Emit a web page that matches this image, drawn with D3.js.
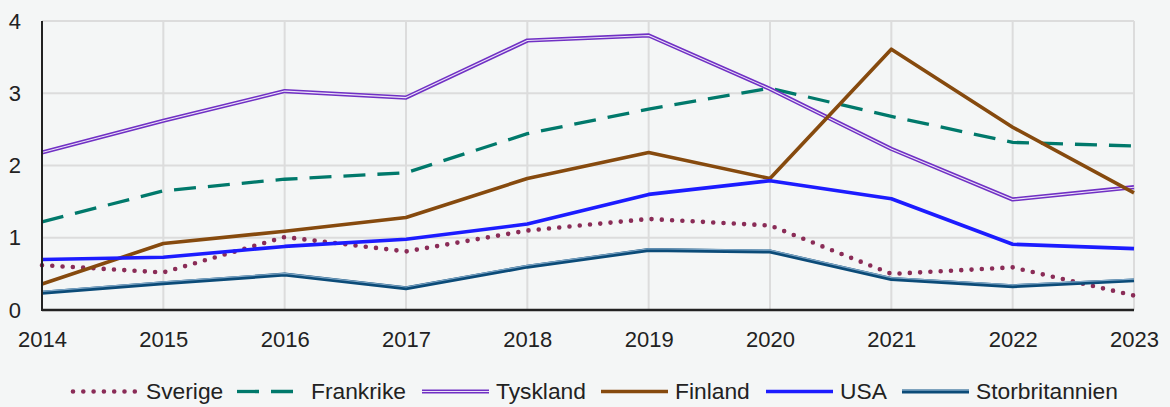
<!DOCTYPE html>
<html>
<head>
<meta charset="utf-8">
<script src="https://cdn.jsdelivr.net/npm/d3@7"></script>
<style>
  html, body { margin: 0; padding: 0; background: #f4f6f6; }
  svg { display: block; font-family: "Liberation Sans", Arial, sans-serif; }
</style>
</head>
<body>
<svg id="chart" width="1170" height="407"></svg>
<script>
(function(){
  // data
  const years = [2014, 2015, 2016, 2017, 2018, 2019, 2020, 2021, 2022, 2023];
  const sverige        = [0.62, 0.52, 1.01, 0.81, 1.10, 1.26, 1.17, 0.50, 0.59, 0.20];
  const frankrike      = [1.22, 1.65, 1.81, 1.90, 2.44, 2.78, 3.07, 2.68, 2.32, 2.27];
  const tyskland       = [2.18, 2.62, 3.03, 2.94, 3.73, 3.80, 3.06, 2.23, 1.53, 1.70];
  const finland        = [0.36, 0.92, 1.09, 1.28, 1.82, 2.18, 1.82, 3.61, 2.53, 1.62];
  const usa            = [0.70, 0.73, 0.88, 0.98, 1.19, 1.60, 1.79, 1.54, 0.91, 0.85];
  const storbritannien = [0.24, 0.37, 0.49, 0.30, 0.60, 0.83, 0.81, 0.43, 0.33, 0.41];
  const yTicks = [0, 1, 2, 3, 4];

  const series = [
    { name: 'Sverige', values: sverige, style: 'dot', color: '#8a2c57' },
    { name: 'Frankrike', values: frankrike, style: 'dash', color: '#00796b' },
    { name: 'Tyskland', values: tyskland, style: 'double', color: '#7030c4', inner: '#ece4f8' },
    { name: 'Finland', values: finland, style: 'solid', color: '#864a0e' },
    { name: 'USA', values: usa, style: 'solid', color: '#1c1cff' },
    { name: 'Storbritannien', values: storbritannien, style: 'thinthick', color: '#0b4b78', inner: '#7ea6c6' }
  ];

  const svg = d3.select('#chart');
  const m = { left: 42, right: 36, top: 21, bottom: 97 };
  const W = 1170, H = 407;
  const FS = 22;

  const x = d3.scaleLinear().domain([2014, 2023]).range([m.left, W - m.right]);
  const y = d3.scaleLinear().domain([0, 4]).range([H - m.bottom, m.top]);

  // grid
  const grid = svg.append('g').attr('stroke', '#dcdcdc').attr('stroke-width', 2);
  grid.selectAll('line.h').data(yTicks.slice(1)).join('line')
    .attr('x1', x(2014)).attr('x2', x(2023))
    .attr('y1', d => y(d)).attr('y2', d => y(d));
  grid.selectAll('line.v').data(years.slice(1)).join('line')
    .attr('x1', d => x(d)).attr('x2', d => x(d))
    .attr('y1', y(0)).attr('y2', y(4));

  // axes
  const yAxis = svg.append('g').attr('transform', `translate(${m.left},0)`)
    .call(d3.axisLeft(y).tickValues(yTicks).tickSize(0).tickPadding(21).tickFormat(d3.format('d')));
  yAxis.select('.domain').remove();
  yAxis.selectAll('text').attr('font-size', FS).attr('fill', '#222');
  yAxis.attr('font-family', null);

  const xAxis = svg.append('g').attr('transform', `translate(0,${y(0)})`)
    .call(d3.axisBottom(x).tickValues(years).tickSize(0).tickPadding(21).tickFormat(d3.format('d')));
  xAxis.select('.domain').remove();
  xAxis.selectAll('text').attr('font-size', FS).attr('fill', '#222');
  xAxis.attr('font-family', null);

  const line = d3.line().x((d, i) => x(years[i])).y(d => y(d));

  function drawStroke(sel, s, pathFn, shift){
    if (s.style === 'dot') {
      sel.append('path').attr('d', pathFn()).attr('fill', 'none')
        .attr('stroke', s.color).attr('stroke-width', 4.6)
        .attr('stroke-linecap', 'round').attr('stroke-dasharray', '0 10.3');
    } else if (s.style === 'dash') {
      sel.append('path').attr('d', pathFn()).attr('fill', 'none')
        .attr('stroke', s.color).attr('stroke-width', 3.3)
        .attr('stroke-dasharray', '22 12');
    } else if (s.style === 'double') {
      sel.append('path').attr('d', pathFn()).attr('fill', 'none')
        .attr('stroke', s.color).attr('stroke-width', 4.2).attr('stroke-linejoin', 'round');
      sel.append('path').attr('d', pathFn()).attr('fill', 'none')
        .attr('stroke', s.inner).attr('stroke-width', 1.1).attr('stroke-linejoin', 'round');
    } else if (s.style === 'thinthick') {
      sel.append('path').attr('d', pathFn()).attr('fill', 'none')
        .attr('stroke', s.color).attr('stroke-width', 4).attr('stroke-linejoin', 'round');
      sel.append('path').attr('d', pathFn()).attr('fill', 'none')
        .attr('transform', `translate(0,${shift})`)
        .attr('stroke', s.inner).attr('stroke-width', 1.2).attr('stroke-linejoin', 'round');
    } else {
      sel.append('path').attr('d', pathFn()).attr('fill', 'none')
        .attr('stroke', s.color).attr('stroke-width', 3.6).attr('stroke-linejoin', 'round');
    }
  }

  const lines = svg.append('g');
  series.forEach(s => {
    drawStroke(lines.append('g'), s, () => line(s.values), -1.3);
  });

  // axis lines above series
  svg.append('line').attr('x1', m.left).attr('x2', m.left).attr('y1', y(4)).attr('y2', y(0) + 1)
    .attr('stroke', '#222').attr('stroke-width', 2);
  svg.append('line').attr('x1', m.left).attr('x2', x(2023)).attr('y1', y(0)).attr('y2', y(0))
    .attr('stroke', '#222').attr('stroke-width', 2.5);

  // legend
  const legendX = [72, 237, 422, 601, 766, 902];
  const sampleW = 67;
  const ly = 391.5;
  const leg = svg.append('g');
  series.forEach((s, i) => {
    const g = leg.append('g');
    const x0 = legendX[i], x1 = legendX[i] + sampleW;
    drawStroke(g, s, () => `M${s.style === 'dot' ? x0 + 1 : x0},${ly}L${x1},${ly}`, -1.3);
    g.append('text').attr('x', x1 + 7).attr('y', ly + 7.8)
      .attr('font-size', 22.8).attr('fill', '#222').text(s.name);
  });
})();
</script>
</body>
</html>
